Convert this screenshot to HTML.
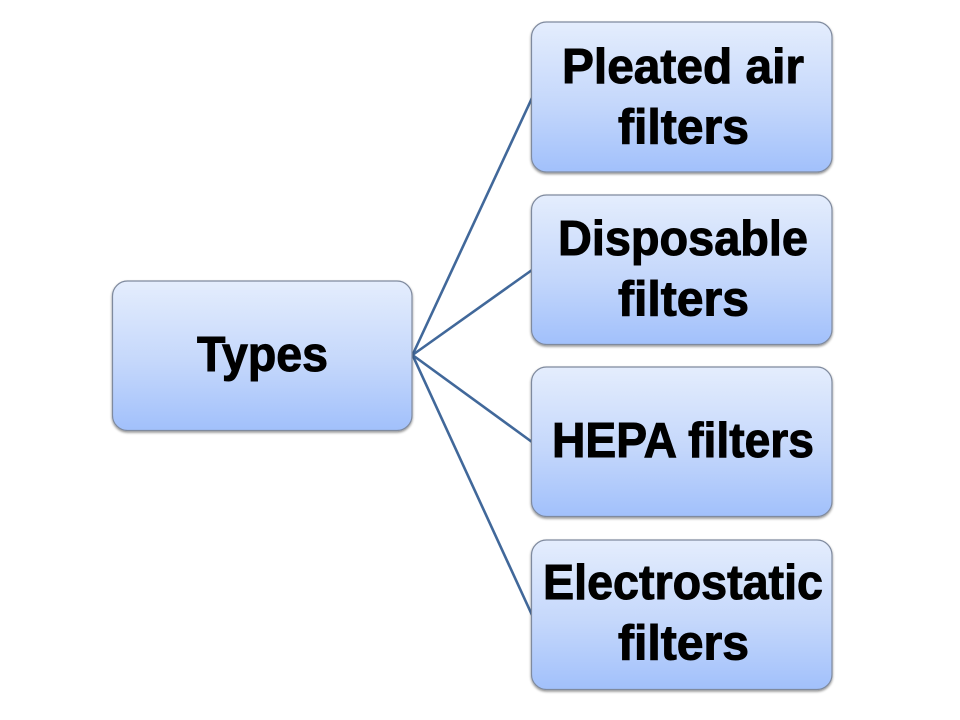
<!DOCTYPE html>
<html>
<head>
<meta charset="utf-8">
<style>
html,body{margin:0;padding:0;background:#fff;width:960px;height:720px;overflow:hidden}
svg{display:block}
text{font-family:"Liberation Sans",sans-serif;font-weight:bold;font-size:49px;fill:#000;stroke:#000;stroke-width:1px}
.b{fill:url(#g);stroke:#7f8a9e;stroke-width:1.2;filter:url(#s)}
</style>
</head>
<body>
<svg width="960" height="720" viewBox="0 0 960 720" xmlns="http://www.w3.org/2000/svg">
<defs>
<linearGradient id="g" x1="0" y1="0" x2="0" y2="1">
<stop offset="0" stop-color="#e4edfd"/>
<stop offset=".55" stop-color="#c4d7fb"/>
<stop offset="1" stop-color="#a1c0fb"/>
</linearGradient>
<filter id="s" x="-5%" y="-5%" width="110%" height="115%">
<feDropShadow dx="0" dy="1.5" stdDeviation="1.2" flood-color="#000" flood-opacity=".45"/>
</filter>
</defs>
<g stroke="#41689a" stroke-width="2.6" fill="none">
<line x1="412.5" y1="355" x2="532" y2="98"/>
<line x1="412.5" y1="355" x2="532" y2="270"/>
<line x1="412.5" y1="355" x2="532" y2="442"/>
<line x1="412.5" y1="355" x2="532" y2="615"/>
</g>
<rect class="b" x="112.5" y="281" width="299.5" height="149.5" rx="15"/>
<rect class="b" x="531.5" y="22" width="300.5" height="150" rx="15"/>
<rect class="b" x="531.5" y="195" width="300.5" height="149.5" rx="15"/>
<rect class="b" x="531.5" y="367" width="300.5" height="149.5" rx="15"/>
<rect class="b" x="531.5" y="540" width="300.5" height="149.5" rx="15"/>
<text x="197" y="371" textLength="131" lengthAdjust="spacingAndGlyphs">Types</text>
<text x="562" y="83" textLength="242" lengthAdjust="spacingAndGlyphs">Pleated air</text>
<text x="618" y="143.5" textLength="131" lengthAdjust="spacingAndGlyphs">filters</text>
<text x="558" y="255" textLength="250" lengthAdjust="spacingAndGlyphs">Disposable</text>
<text x="618" y="315.5" textLength="131" lengthAdjust="spacingAndGlyphs">filters</text>
<text x="552" y="457" textLength="262" lengthAdjust="spacingAndGlyphs">HEPA filters</text>
<text x="543" y="599" textLength="280" lengthAdjust="spacingAndGlyphs">Electrostatic</text>
<text x="618" y="659.5" textLength="131" lengthAdjust="spacingAndGlyphs">filters</text>
</svg>
</body>
</html>
